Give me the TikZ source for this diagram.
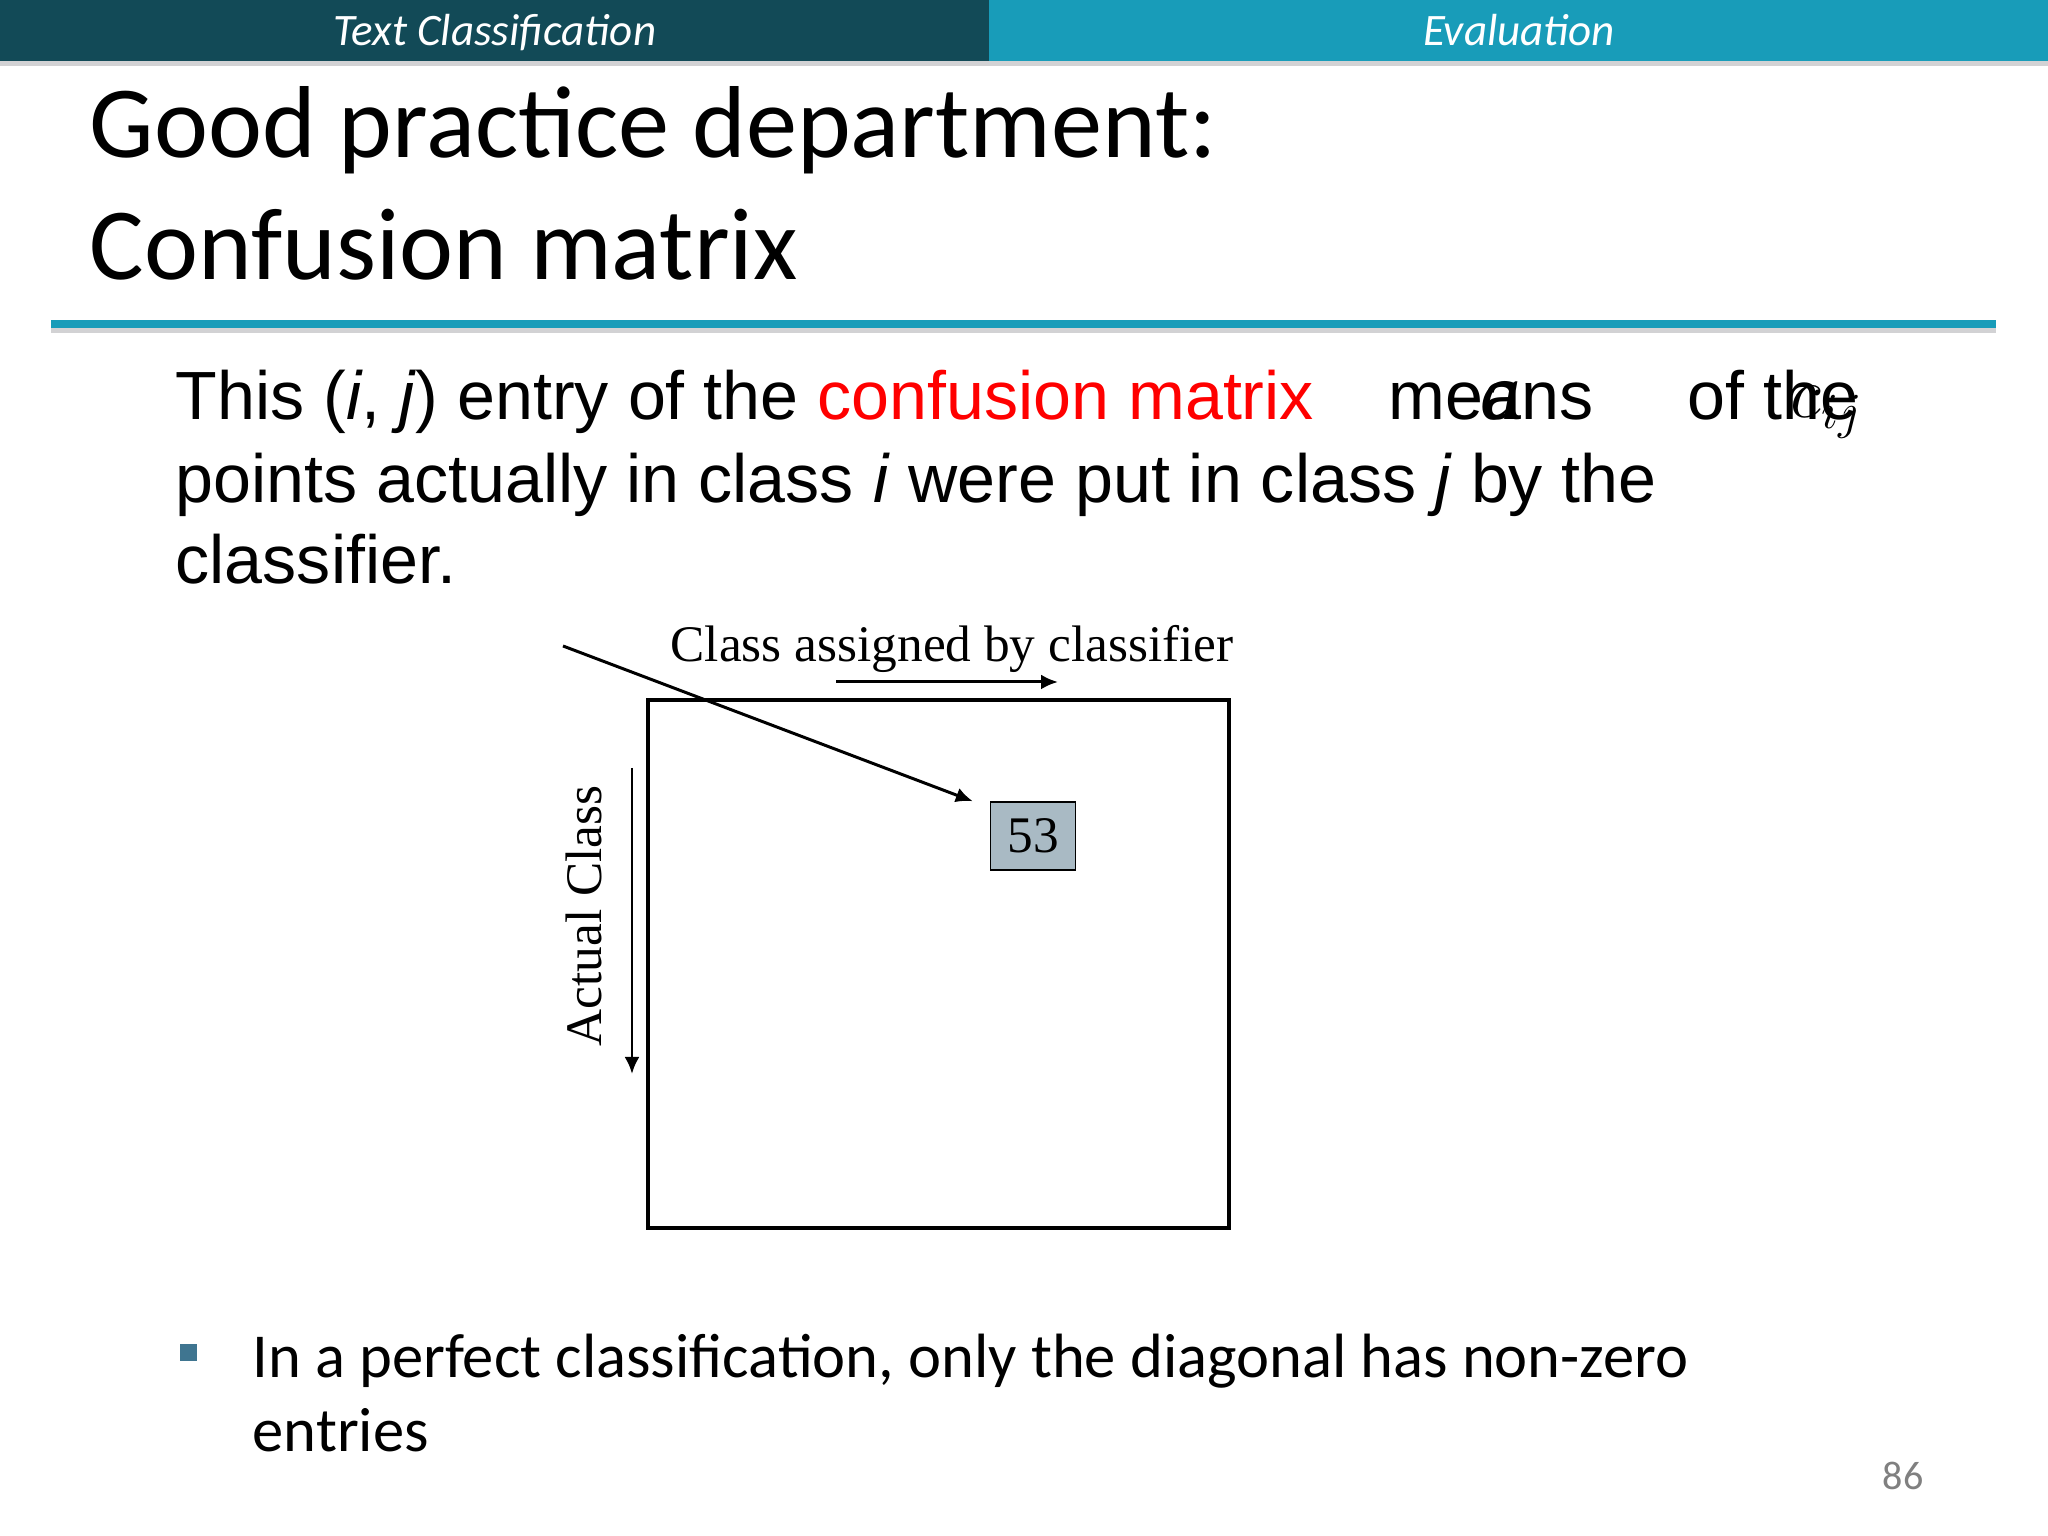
\documentclass[tikz,border=0pt]{standalone}
\usepackage{fontspec}
\setmainfont{Carlito}
\newfontfamily\arialfont{Liberation Sans}
\newfontfamily\timesfont{Liberation Serif}
\usetikzlibrary{positioning,arrows.meta}
\definecolor{barDark}{HTML}{124A57}
\definecolor{barLight}{HTML}{189CB9}
\definecolor{barGray}{HTML}{D2D2D4}
\definecolor{bulletBlue}{HTML}{3F7590}
\definecolor{cellGray}{HTML}{A9BAC4}
\tikzset{
	headtext/.style={white, anchor=base, font=\fontsize{12.8}{15}\selectfont\itshape},
	titletext/.style={black, anchor=base west, inner sep=0pt, font=\fontsize{29.1}{34}\selectfont},
	bodytext/.style={black, anchor=base west, inner sep=0pt, font=\arialfont\fontsize{19.4}{23}\selectfont},
	bullettext/.style={black, anchor=base west, inner sep=0pt, font=\fontsize{17.8}{21}\selectfont},
	figtext/.style={black, inner sep=0pt, font=\timesfont\fontsize{14.6}{17}\selectfont},
	pointer/.style={draw=black, -{Latex[length=0.17cm,width=0.15cm]}, line width=0.85pt, solid},
}
\begin{document}
\begin{tikzpicture}
		\useasboundingbox (0.00,0.00) rectangle (20.48,15.36);
		\fill[white] (0.00,0.00) rectangle (20.48,15.36);
		% header bar
		\fill[barDark] (0.00,15.36) rectangle (9.89,14.75);
		\fill[barLight] (9.89,15.36) rectangle (20.48,14.75);
		\fill[barGray] (0.00,14.75) rectangle (20.48,14.70);
		\node[headtext] (sec) at (4.95,14.90) {Text Classification};
		\node[headtext] (sub) at (15.19,14.90) {Evaluation};
		% title
		\node[titletext] (title1) at (0.89,13.78) {Good practice department:};
		\node[titletext] (title2) at (0.89,12.56) {Confusion matrix};
		\fill[barLight] (0.51,12.16) rectangle (19.96,12.08);
		\fill[barGray] (0.51,12.08) rectangle (19.96,12.03);
		% body text
		\node[bodytext] (line1) at (1.75,11.16) {This (\textit{i}, \textit{j}) entry of the \textcolor{red}{confusion matrix}};
		\node[bodytext] (means) at (13.88,11.16) {means};
		\node[bodytext] (ofthe) at (16.87,11.16) {of the};
		\node[black, anchor=base west, inner sep=0pt, font=\timesfont\itshape\fontsize{23}{27}\selectfont] (aover) at (14.80,11.16) {a};
		\node[black, anchor=base west, inner sep=0pt, font=\timesfont\fontsize{21}{25}\selectfont] (cover) at (17.90,11.18) {$c_{ij}$};
		\node[bodytext] (line2) at (1.75,10.33) {points actually in class \textit{i} were put in class \textit{j} by the};
		\node[bodytext] (line3) at (1.75,9.52) {classifier.};
		% confusion matrix
		\draw[draw=black, line width=1.2pt, solid] (6.48,8.36) rectangle (12.29,3.08);
		\node[figtext, anchor=base west] (assigned) at (6.70,8.74) {Class assigned by classifier};
		\node[figtext, rotate=90] (actual) at (5.84,6.20) {Actual Class};
		\node[figtext, draw=black, fill=cellGray, minimum width=0.85cm, minimum height=0.68cm] (cell) at (10.33,7.00) {53};
		\coordinate (colStart) at (8.36,8.54);
		\coordinate (colEnd) at (10.58,8.54);
		\coordinate (rowStart) at (6.32,7.68);
		\coordinate (rowEnd) at (6.32,4.62);
		\coordinate (entryStart) at (5.63,8.90);
		\draw[pointer] (colStart) -- (colEnd);
		\draw[pointer] (rowStart) -- (rowEnd);
		\draw[pointer] (entryStart) -- ([xshift=-0.17cm]cell.north west);
		% bullet
		\fill[bulletBlue] (1.80,1.92) rectangle (1.97,1.75);
		\node[bullettext] (bullet1) at (2.52,1.58) {In a perfect classification, only the diagonal has non-zero};
		\node[bullettext] (bullet2) at (2.52,0.84) {entries};
		\node[gray, anchor=base east, inner sep=0pt, font=\fontsize{11.4}{14}\selectfont] (page) at (19.24,0.46) {86};
	\end{tikzpicture}
\end{document}
